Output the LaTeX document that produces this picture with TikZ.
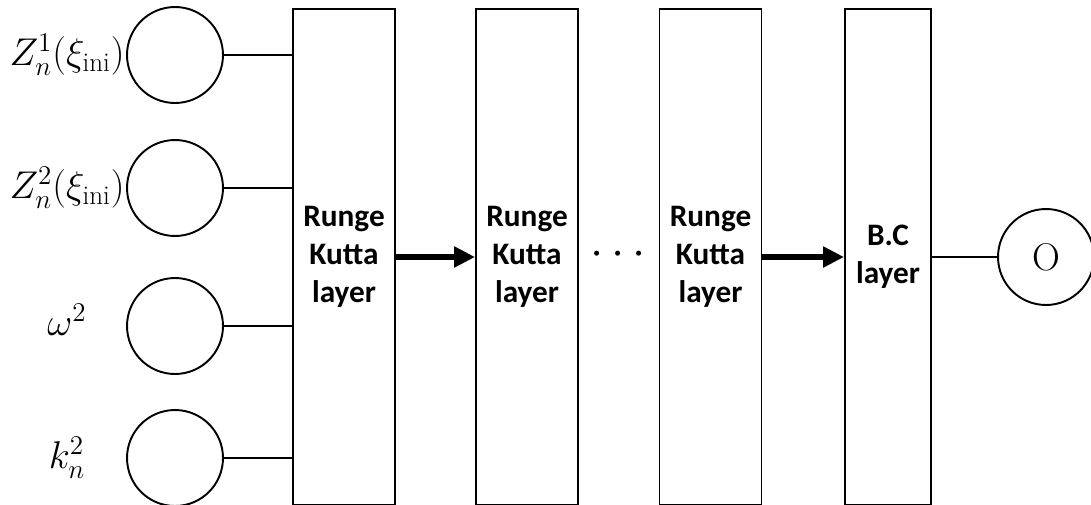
\RequirePackage{fix-cm}
\documentclass[tikz,border=0pt]{standalone}
\usepackage{fontspec}
\newfontfamily\layerfont{Carlito}
\usetikzlibrary{positioning, arrows.meta}

\begin{document}
\begin{tikzpicture}[x=0.02cm, y=-0.02cm]
\tikzset{
  unit/.style={draw, circle, line width=1.1pt, minimum size=1.92cm, inner sep=0pt},
  layer/.style={draw, rectangle, line width=1.1pt, minimum width=2.04cm, minimum height=9.92cm,
    inner sep=0pt, align=center, font=\layerfont\bfseries\fontsize{17.8}{21.5}\selectfont},
  lbl/.style={inner sep=0pt, font=\fontsize{22}{26}\selectfont},
  wire/.style={line width=1.4pt},
  flow/.style={line width=3pt, -{Triangle[length=0.42cm, width=0.4cm]}}
}
\useasboundingbox (0,0) rectangle (1091,504);

% input units
\node[unit] (z1) at (175,55) {};
\node[unit] (z2) at (175,188) {};
\node[unit] (w) at (175,326) {};
\node[unit] (k) at (175,458) {};

\node[lbl] (lz1) at (67,55) {$Z_n^1(\xi_{\rm ini})$};
\node[lbl] (lz2) at (67,188) {$Z_n^2(\xi_{\rm ini})$};
\node[lbl] (lw) at (67,320) {$\omega^2$};
\node[lbl] (lk) at (67,458) {$k_n^2$};

% layers
\node[layer] (rk1) at (344,257) {Runge\\Kutta\\layer};
\node[layer] (rk2) at (527,257) {Runge\\Kutta\\layer};
\node[layer] (rk3) at (710.5,257) {Runge\\Kutta\\layer};
\node[layer, minimum width=1.72cm] (bc) at (888,257) {B.C\\layer};

\node[inner sep=0pt] (dots) at (618,255) {\fontsize{27}{30}\selectfont$\cdots$};

% output
\node[unit, lbl] (out) at (1046,257) {O};

\foreach \n in {z1,z2,w,k}
  \draw[wire] (\n) -- (\n -| rk1.west);

\draw[flow] (rk1) -- (rk2);
\draw[flow] (rk3) -- (bc);
\draw[wire] (out -| bc.east) -- (out);
\end{tikzpicture}
\end{document}
